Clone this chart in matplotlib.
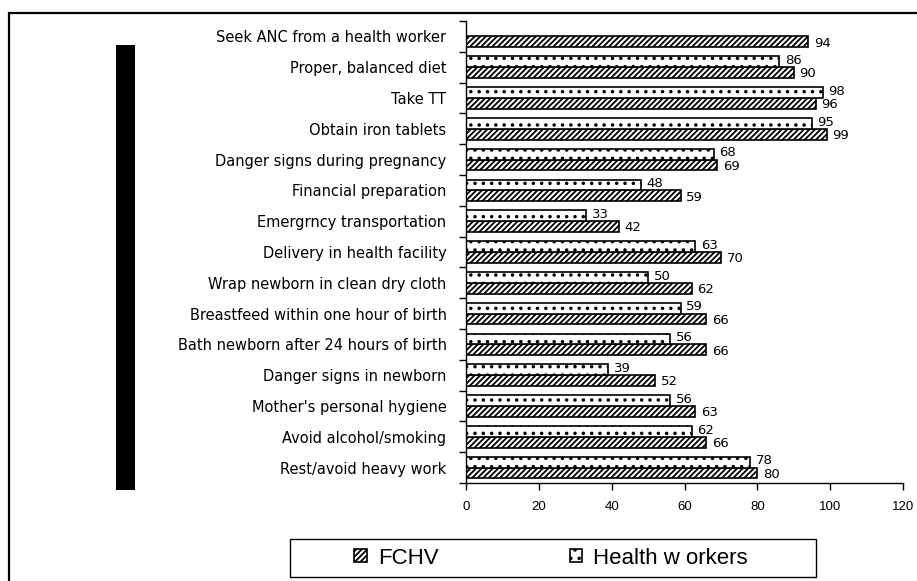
import numpy as np
import matplotlib
matplotlib.use("Agg")
import matplotlib.pyplot as plt
from matplotlib.patches import Rectangle, Patch

categories = [
    "Seek ANC from a health worker",
    "Proper, balanced diet",
    "Take TT",
    "Obtain iron tablets",
    "Danger signs during pregnancy",
    "Financial preparation",
    "Emergrncy transportation",
    "Delivery in health facility",
    "Wrap newborn in clean dry cloth",
    "Breastfeed within one hour of birth",
    "Bath newborn after 24 hours of birth",
    "Danger signs in newborn",
    "Mother's personal hygiene",
    "Avoid alcohol/smoking",
    "Rest/avoid heavy work",
]
fchv = [94, 90, 96, 99, 69, 59, 42, 70, 62, 66, 66, 52, 63, 66, 80]
health_workers = [None, 86, 98, 95, 68, 48, 33, 63, 50, 59, 56, 39, 56, 62, 78]
x_ticks = [0, 20, 40, 60, 80, 100, 120]

plt.rcParams['hatch.linewidth'] = 1.3
W, H = 917, 581
fig = plt.figure(figsize=(W / 100, H / 100), dpi=100)
ax = fig.add_axes([466 / W, 1 - 483 / H, (903 - 466) / W, (483 - 21) / H])

bh = 0.35
y = np.arange(len(categories))
for i, (f, h) in enumerate(zip(fchv, health_workers)):
    ax.barh(i + bh / 2, f, height=bh, color="white", edgecolor="black",
            linewidth=1.2, hatch="//////")
    ax.annotate(str(f), (f, i + bh / 2), xytext=(4, -1), textcoords="offset points",
                va="center", ha="left", fontsize=9.5, family="DejaVu Sans")
    if h is not None:
        ax.barh(i - bh / 2, h, height=bh, color="white", edgecolor="black",
                linewidth=1.2, hatch="..")
        ax.annotate(str(h), (h, i - bh / 2), xytext=(4, 1), textcoords="offset points",
                    va="center", ha="left", fontsize=9.5, family="DejaVu Sans")

ax.set_xlim(0, 120)
ax.set_ylim(len(categories) - 0.5, -0.5)
ax.set_xticks(x_ticks)
ax.set_xticklabels([str(t) for t in x_ticks], family="Liberation Sans", fontsize=9.5)
ax.tick_params(axis="x", length=5, width=1, pad=8)
ax.set_yticks(y)
ax.set_yticklabels(categories, family="DejaVu Sans", fontsize=10.5)
ax.tick_params(axis="y", which="major", length=0, pad=14)
ax.set_yticks(np.arange(len(categories) + 1) - 0.5, minor=True)
ax.tick_params(axis="y", which="minor", length=5, width=1)
for s in ["top", "right"]:
    ax.spines[s].set_visible(False)
for s in ["left", "bottom"]:
    ax.spines[s].set_linewidth(1)

# outer frame and black side bar
fig.add_artist(Rectangle((9 / W, -0.1), 1.2, 1.1 - 13 / H, transform=fig.transFigure,
                         fill=False, edgecolor="black", linewidth=1.6))
fig.add_artist(Rectangle((116 / W, 1 - 490 / H), 19 / W, 445 / H, transform=fig.transFigure,
                         facecolor="black", edgecolor="none"))

# legend box
fig.add_artist(Rectangle((290 / W, 1 - 577 / H), 526 / W, 38 / H, transform=fig.transFigure,
                         fill=False, edgecolor="black", linewidth=1))
handles = [Patch(facecolor="white", edgecolor="black", hatch="//////", linewidth=1.2),
           Patch(facecolor="white", edgecolor="black", hatch="..", linewidth=1.2)]
fig.legend(handles, ["FCHV", "Health w orkers"], loc="center",
           bbox_to_anchor=(551 / W, 1 - 558 / H), ncol=2, frameon=False,
           prop={"family": "Liberation Sans", "size": 16},
           handlelength=0.55, handleheight=0.55, handletextpad=0.5, columnspacing=5.9)

fig.savefig("out.png", dpi=100)
